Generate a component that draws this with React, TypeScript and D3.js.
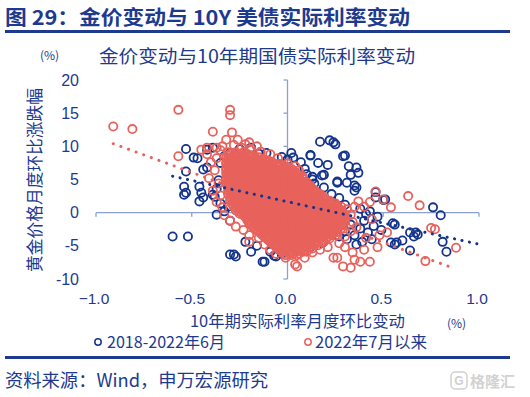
import React from "react";
import * as d3 from "d3";

// 2018 - 2022.06 (blue) : [real rate change, gold change]
const bluePoints: [number, number][] = [
  [-0.60, -3.6], [-0.52, -3.6],
  [-0.53, 9.6], [-0.49, 8.3], [-0.47, 8.2], [-0.42, 9.5], [-0.39, 9.8], [-0.44, 6.5], [-0.42, 6.8], [-0.53, 6.2],
  [-0.54, 3.9], [-0.53, 3.0], [-0.54, 2.7], [-0.46, 3.9], [-0.45, 3.0], [-0.44, 2.3], [-0.46, 1.7], [-0.38, 2.4],
  [-0.39, 2.7], [-0.37, -0.3], [-0.31, 0.9],
  [-0.30, -6.3], [-0.27, -6.6], [-0.19, -5.9], [-0.13, -7.4], [-0.12, -7.4], [-0.09, -5.9], [-0.07, -6.5], [-0.06, -6.6], [-0.28, -6.3],
  [0.17, 10.7], [0.22, 10.9], [0.24, 10.6], [0.25, 10.3], [0.12, 8.6], [0.02, 9.0], [0.03, 8.3], [0.30, 8.6],
  [0.16, 7.5], [0.21, 7.2], [0.32, 7.0], [0.36, 6.8], [0.33, 5.7], [0.37, 6.0], [0.13, 5.4], [0.18, 5.6],
  [0.26, 4.5], [0.35, 4.1], [0.35, 3.3], [0.46, 3.1], [0.50, 1.9], [0.46, 2.3], [0.51, 2.0],
  [0.76, 0.8], [0.80, -0.4], [0.55, -1.6], [0.56, -1.8], [0.64, -3.0], [0.68, -3.3], [0.66, -3.6], [0.67, -3.0],
  [0.54, -4.5], [0.57, -4.5], [0.56, -4.8], [0.60, -4.2], [0.64, -5.7], [0.81, -4.4], [0.83, -5.9], [0.49, -2.6],
  [0.22, -1.5], [0.25, -2.2], [0.28, -1.0], [0.30, -2.8], [0.33, -1.8], [0.35, -3.4], [0.38, -2.4], [0.40, -1.2],
  [0.42, -3.0], [0.44, -4.0], [0.39, -4.4], [0.36, -4.8], [0.31, -4.0], [0.27, -3.6], [0.45, -2.0], [0.47, -0.6],
  [0.41, -0.2], [0.24, -0.6],
  [-0.35, 7.5], [-0.33, 8.5], [-0.30, 9.0], [-0.25, 9.6], [-0.19, 9.8], [-0.15, 8.9], [-0.11, 9.0], [-0.03, 8.4],
  [0.00, 8.0], [0.07, 7.6], [0.09, 6.6], [0.10, 5.8], [0.14, 4.4], [0.19, 3.8], [0.23, 2.8], [0.27, 2.2],
  [0.30, 1.2], [0.38, 0.6], [0.43, 0.2], [-0.36, 4.9], [-0.37, 3.6], [-0.35, 1.4], [-0.33, 0.2], [-0.30, -1.2],
  [0.12, 8.7], [0.19, 5.7], [0.26, 4.7], [0.31, 4.5], [0.36, 3.8], [0.13, 5.0], [0.29, 8.5],
  [-0.22, -4.4], [-0.16, -5.0], [-0.03, -6.2], [0.05, -5.6], [0.12, -5.2], [0.18, -4.6],
  [-0.20, 4.0], [-0.10, 2.0], [0.00, 1.0], [0.05, -2.0], [-0.15, 6.0], [0.10, -1.0],
];

// 2022.07 onwards (red): scattered points around the core
const redPoints: [number, number][] = [
  [-0.91, 13.0], [-0.81, 12.6], [-0.57, 15.5], [-0.30, 15.5], [-0.30, 14.7], [-0.39, 12.2], [-0.29, 12.1],
  [-0.32, 11.0], [-0.57, 8.5], [-0.42, 9.8], [-0.26, 11.0], [-0.22, 10.3], [-0.45, 9.5], [-0.37, 9.8],
  [-0.27, -2.1], [-0.23, -2.6], [-0.20, -4.4], [-0.01, -6.8], [0.04, -7.8], [0.05, -8.1], [0.24, -6.8],
  [0.26, -6.8], [0.29, -8.1], [0.33, -8.3], [0.35, -7.1], [0.38, -7.4], [0.43, -7.4],
  [0.63, 2.5], [0.69, 1.1], [0.75, -2.3], [0.77, -2.5], [0.88, -5.3], [0.72, -7.3], [0.46, 3.2], [0.50, 2.0], [0.54, 0.8],
  [0.40, 0.9], [0.43, 1.6], [0.44, -1.0], [0.48, -3.4], [0.52, -3.0], [0.47, -5.2], [0.40, -5.6], [0.34, -6.0],
  [0.30, -5.2], [0.36, -2.2], [0.41, -3.8],
  [-0.42, 8.8], [-0.40, 7.6], [-0.38, 6.4], [-0.41, 5.2], [-0.36, 4.4], [-0.39, 3.3], [-0.35, 2.6], [-0.37, 1.6],
  [-0.34, 0.8], [-0.33, -0.4], [-0.30, -1.2], [-0.35, 9.4], [-0.37, 8.2], [-0.34, 10.0], [-0.28, 10.2],
  [-0.24, 9.8], [-0.19, 9.6], [-0.14, 9.2], [-0.09, 8.8], [-0.20, 10.6], [-0.16, 10.0],
  [-0.05, 8.2], [0.00, 7.4], [0.04, 7.0], [0.06, 6.4], [0.08, 5.4], [0.10, 4.6], [0.12, 4.0], [0.14, 3.4],
  [0.17, 2.8], [0.19, 2.4], [0.22, 1.8], [0.25, 1.4], [0.28, 0.9], [0.31, 0.5], [0.33, -0.3], [0.35, 0.9],
  [0.37, 1.7], [0.34, -1.4], [0.33, -2.8], [0.30, -3.6],
  [-0.20, -3.4], [-0.15, -3.8], [-0.12, -4.8], [-0.09, -5.6], [-0.06, -6.2], [0.09, -6.8], [0.13, -6.0],
  [0.17, -5.6], [0.21, -5.2], [0.27, -4.6],
];

// 2022.07 onwards (red): dense core, one row per gold change level
const redCore: [number, number[]][] = [
  [9.1, [-0.31, -0.27, -0.23]],
  [8.85, [-0.30, -0.27, -0.24, -0.21]],
  [8.6, [-0.31, -0.28, -0.26, -0.23, -0.20, -0.18]],
  [8.35, [-0.32, -0.29, -0.27, -0.24, -0.22, -0.19, -0.17, -0.15]],
  [8.1, [-0.31, -0.29, -0.26, -0.24, -0.21, -0.18, -0.16, -0.13]],
  [7.85, [-0.31, -0.28, -0.25, -0.23, -0.20, -0.18, -0.15, -0.12, -0.10]],
  [7.6, [-0.32, -0.29, -0.27, -0.24, -0.22, -0.19, -0.17, -0.14, -0.11, -0.08]],
  [7.35, [-0.32, -0.30, -0.27, -0.25, -0.22, -0.20, -0.17, -0.14, -0.12, -0.09, -0.06, -0.04]],
  [7.1, [-0.31, -0.28, -0.26, -0.23, -0.21, -0.18, -0.16, -0.13, -0.10, -0.08, -0.05, -0.02]],
  [6.85, [-0.31, -0.28, -0.25, -0.23, -0.20, -0.17, -0.15, -0.12, -0.10, -0.07, -0.04, -0.02, 0.00]],
  [6.6, [-0.32, -0.29, -0.27, -0.24, -0.21, -0.19, -0.16, -0.14, -0.11, -0.08, -0.06, -0.03, -0.01, 0.02]],
  [6.35, [-0.32, -0.30, -0.27, -0.25, -0.22, -0.20, -0.17, -0.14, -0.12, -0.09, -0.07, -0.04, -0.01, 0.01, 0.03]],
  [6.1, [-0.31, -0.29, -0.26, -0.23, -0.21, -0.18, -0.16, -0.13, -0.10, -0.08, -0.05, -0.03, 0.00, 0.03, 0.04]],
  [5.85, [-0.32, -0.30, -0.27, -0.24, -0.22, -0.19, -0.17, -0.14, -0.11, -0.09, -0.06, -0.04, -0.01, 0.02, 0.05]],
  [5.6, [-0.31, -0.28, -0.26, -0.23, -0.20, -0.18, -0.15, -0.13, -0.10, -0.07, -0.05, -0.02, 0.00, 0.03, 0.06]],
  [5.35, [-0.31, -0.28, -0.25, -0.23, -0.20, -0.17, -0.15, -0.12, -0.10, -0.07, -0.04, -0.02, 0.01, 0.04, 0.06]],
  [5.1, [-0.32, -0.29, -0.26, -0.24, -0.21, -0.19, -0.16, -0.13, -0.11, -0.08, -0.06, -0.03, 0.00, 0.02, 0.05, 0.08]],
  [4.85, [-0.32, -0.30, -0.27, -0.25, -0.22, -0.19, -0.17, -0.14, -0.12, -0.09, -0.06, -0.04, -0.01, 0.02, 0.04, 0.07]],
  [4.6, [-0.31, -0.28, -0.26, -0.23, -0.20, -0.18, -0.15, -0.13, -0.10, -0.07, -0.05, -0.02, 0.01, 0.03, 0.06, 0.09]],
  [4.35, [-0.32, -0.30, -0.27, -0.25, -0.22, -0.20, -0.17, -0.14, -0.12, -0.09, -0.07, -0.04, -0.01, 0.01, 0.04, 0.07, 0.09]],
  [4.1, [-0.31, -0.29, -0.26, -0.24, -0.21, -0.18, -0.16, -0.13, -0.11, -0.08, -0.05, -0.03, 0.00, 0.02, 0.05, 0.08, 0.11]],
  [3.85, [-0.31, -0.29, -0.27, -0.24, -0.21, -0.19, -0.16, -0.14, -0.11, -0.08, -0.06, -0.03, -0.01, 0.02, 0.05, 0.07, 0.10, 0.12]],
  [3.6, [-0.30, -0.28, -0.25, -0.22, -0.20, -0.17, -0.15, -0.12, -0.09, -0.07, -0.04, -0.02, 0.01, 0.04, 0.06, 0.09, 0.11, 0.13]],
  [3.35, [-0.31, -0.29, -0.26, -0.23, -0.21, -0.18, -0.16, -0.13, -0.10, -0.08, -0.05, -0.03, 0.00, 0.03, 0.05, 0.08, 0.10, 0.13]],
  [3.1, [-0.30, -0.27, -0.25, -0.22, -0.19, -0.17, -0.14, -0.12, -0.09, -0.06, -0.04, -0.01, 0.01, 0.04, 0.07, 0.09, 0.12, 0.15]],
  [2.85, [-0.31, -0.28, -0.26, -0.23, -0.20, -0.18, -0.15, -0.13, -0.10, -0.07, -0.05, -0.02, 0.00, 0.03, 0.06, 0.08, 0.11, 0.13, 0.16]],
  [2.6, [-0.29, -0.27, -0.24, -0.21, -0.19, -0.16, -0.14, -0.11, -0.08, -0.06, -0.03, -0.01, 0.02, 0.05, 0.07, 0.10, 0.12, 0.15, 0.17]],
  [2.35, [-0.30, -0.28, -0.25, -0.22, -0.20, -0.17, -0.15, -0.12, -0.09, -0.07, -0.04, -0.02, 0.01, 0.04, 0.06, 0.09, 0.11, 0.14, 0.17]],
  [2.1, [-0.29, -0.26, -0.23, -0.21, -0.18, -0.16, -0.13, -0.10, -0.08, -0.05, -0.03, 0.00, 0.03, 0.05, 0.08, 0.10, 0.13, 0.16, 0.19]],
  [1.85, [-0.30, -0.27, -0.24, -0.22, -0.19, -0.17, -0.14, -0.11, -0.09, -0.06, -0.04, -0.01, 0.02, 0.04, 0.07, 0.09, 0.12, 0.15, 0.17, 0.20]],
  [1.6, [-0.28, -0.25, -0.23, -0.20, -0.18, -0.15, -0.12, -0.10, -0.07, -0.05, -0.02, 0.01, 0.03, 0.06, 0.08, 0.11, 0.14, 0.16, 0.19, 0.22]],
  [1.35, [-0.29, -0.26, -0.24, -0.21, -0.19, -0.16, -0.13, -0.11, -0.08, -0.06, -0.03, 0.00, 0.02, 0.05, 0.08, 0.10, 0.13, 0.15, 0.18, 0.21, 0.23]],
  [1.1, [-0.27, -0.25, -0.22, -0.20, -0.17, -0.14, -0.12, -0.09, -0.07, -0.04, -0.01, 0.01, 0.04, 0.07, 0.09, 0.12, 0.14, 0.17, 0.20, 0.22, 0.25]],
  [0.85, [-0.28, -0.25, -0.23, -0.20, -0.18, -0.15, -0.12, -0.10, -0.07, -0.05, -0.02, 0.00, 0.03, 0.06, 0.08, 0.11, 0.13, 0.16, 0.19, 0.21, 0.24, 0.26]],
  [0.6, [-0.26, -0.24, -0.21, -0.19, -0.16, -0.14, -0.11, -0.08, -0.06, -0.03, -0.01, 0.02, 0.05, 0.07, 0.10, 0.12, 0.15, 0.18, 0.20, 0.23, 0.25, 0.27]],
  [0.35, [-0.27, -0.24, -0.22, -0.19, -0.17, -0.14, -0.11, -0.09, -0.06, -0.04, -0.01, 0.02, 0.04, 0.07, 0.09, 0.12, 0.15, 0.17, 0.20, 0.22, 0.25, 0.28]],
  [0.1, [-0.25, -0.23, -0.20, -0.18, -0.15, -0.12, -0.10, -0.07, -0.05, -0.02, 0.01, 0.03, 0.06, 0.08, 0.11, 0.14, 0.16, 0.19, 0.21, 0.24, 0.27, 0.29]],
  [-0.15, [-0.25, -0.22, -0.20, -0.17, -0.15, -0.12, -0.09, -0.07, -0.04, -0.02, 0.01, 0.04, 0.06, 0.09, 0.11, 0.14, 0.17, 0.19, 0.22, 0.24, 0.27, 0.29]],
  [-0.4, [-0.23, -0.21, -0.19, -0.16, -0.13, -0.11, -0.08, -0.06, -0.03, 0.00, 0.02, 0.05, 0.07, 0.10, 0.13, 0.15, 0.18, 0.20, 0.23, 0.26, 0.28, 0.30]],
  [-0.65, [-0.22, -0.20, -0.17, -0.15, -0.12, -0.10, -0.07, -0.05, -0.02, 0.01, 0.03, 0.06, 0.08, 0.11, 0.14, 0.16, 0.19, 0.21, 0.24, 0.27, 0.29]],
  [-0.9, [-0.21, -0.19, -0.16, -0.14, -0.11, -0.09, -0.06, -0.03, -0.01, 0.02, 0.04, 0.07, 0.10, 0.12, 0.15, 0.17, 0.20, 0.23, 0.25, 0.28, 0.30]],
  [-1.15, [-0.21, -0.18, -0.16, -0.13, -0.10, -0.08, -0.05, -0.03, 0.00, 0.03, 0.05, 0.08, 0.10, 0.13, 0.16, 0.18, 0.21, 0.23, 0.26, 0.29]],
  [-1.4, [-0.20, -0.17, -0.15, -0.12, -0.09, -0.07, -0.04, -0.02, 0.01, 0.04, 0.06, 0.09, 0.11, 0.14, 0.17, 0.19, 0.22, 0.24, 0.27, 0.30]],
  [-1.65, [-0.20, -0.17, -0.14, -0.12, -0.09, -0.06, -0.04, -0.01, 0.02, 0.04, 0.07, 0.09, 0.12, 0.15, 0.17, 0.20, 0.22, 0.25, 0.28]],
  [-1.9, [-0.19, -0.16, -0.13, -0.11, -0.08, -0.05, -0.03, 0.00, 0.03, 0.05, 0.08, 0.10, 0.13, 0.16, 0.18, 0.21, 0.23, 0.26, 0.29]],
  [-2.15, [-0.18, -0.15, -0.13, -0.10, -0.07, -0.05, -0.02, 0.00, 0.03, 0.06, 0.08, 0.11, 0.13, 0.16, 0.19, 0.21, 0.24, 0.27]],
  [-2.4, [-0.17, -0.14, -0.12, -0.09, -0.07, -0.04, -0.01, 0.01, 0.04, 0.07, 0.09, 0.12, 0.14, 0.17, 0.20, 0.22, 0.25, 0.28]],
  [-2.65, [-0.16, -0.13, -0.11, -0.08, -0.06, -0.03, 0.00, 0.02, 0.05, 0.07, 0.10, 0.12, 0.15, 0.18, 0.20, 0.23, 0.25]],
  [-2.9, [-0.15, -0.13, -0.10, -0.07, -0.05, -0.02, 0.00, 0.03, 0.06, 0.08, 0.11, 0.13, 0.16, 0.19, 0.21, 0.24, 0.26]],
  [-3.15, [-0.14, -0.12, -0.09, -0.07, -0.04, -0.01, 0.01, 0.04, 0.06, 0.09, 0.12, 0.14, 0.17, 0.19, 0.22, 0.24]],
  [-3.4, [-0.13, -0.11, -0.08, -0.06, -0.03, 0.00, 0.02, 0.05, 0.07, 0.10, 0.13, 0.15, 0.18, 0.20, 0.23, 0.25]],
  [-3.65, [-0.12, -0.10, -0.07, -0.04, -0.02, 0.01, 0.03, 0.06, 0.09, 0.11, 0.14, 0.16, 0.19, 0.21]],
  [-3.9, [-0.11, -0.09, -0.06, -0.03, -0.01, 0.02, 0.04, 0.07, 0.10, 0.12, 0.15, 0.17, 0.20, 0.22]],
  [-4.15, [-0.10, -0.07, -0.05, -0.02, 0.00, 0.03, 0.05, 0.08, 0.10, 0.13, 0.15, 0.18]],
  [-4.4, [-0.09, -0.07, -0.04, -0.02, 0.01, 0.04, 0.06, 0.09, 0.11, 0.14, 0.16, 0.19]],
  [-4.65, [-0.08, -0.06, -0.03, -0.01, 0.02, 0.05, 0.07, 0.10, 0.12, 0.15]],
  [-4.9, [-0.07, -0.05, -0.02, 0.01, 0.03, 0.06, 0.08, 0.11, 0.14, 0.16]],
  [-5.15, [-0.06, -0.03, -0.01, 0.02, 0.04, 0.07, 0.09, 0.12]],
  [-5.4, [-0.05, -0.02, 0.00, 0.03, 0.05, 0.08, 0.11, 0.13]],
  [-5.65, [-0.04, -0.01, 0.01, 0.04, 0.07, 0.09]],
  [-5.9, [-0.03, 0.00, 0.02, 0.05, 0.08, 0.10]],
  [-6.15, [-0.02, 0.01, 0.03, 0.06]],
  [-6.4, [-0.01, 0.02, 0.05]],
];

// trend lines (end points)
const blueTrend: [number, number][] = [[-0.60, 5.5], [0.99, -4.7]];
const redTrend: [number, number][] = [[-0.91, 10.4], [0.87, -8.4]];

const xTicks = [-1.0, -0.5, 0.0, 0.5, 1.0];
const yTicks = [20, 15, 10, 5, 0, -5, -10];

const BLUE = "#14348c";
const RED = "#e8625c";
const NAVY = "#1d3a8f";
const AXIS = "#8aa2cf";
const CJK = "'Noto Sans CJK SC', 'Noto Sans', sans-serif";
const LAT = "'Liberation Sans', Arial, sans-serif";

export default function App() {
  const x = d3.scaleLinear().domain([-1, 1]).range([96, 479]);
  const y = d3.scaleLinear().domain([-10, 20]).range([279, 80]);
  const line = d3.line<[number, number]>().x((d) => x(d[0])).y((d) => y(d[1]));

  const redAll: [number, number][] = [];
  redCore.forEach(([gy, xs]) => xs.forEach((gx) => redAll.push([gx, gy])));
  redPoints.forEach((p) => redAll.push(p));

  return (
    <svg width={530} height={397} style={{ position: "absolute", left: 0, top: 0, background: "#fff" }}>
      <text x={5} y={25} fontFamily={CJK} fontWeight={700} fontSize={20} fill={NAVY} textLength={405} lengthAdjust="spacingAndGlyphs">
        图 29：金价变动与 10Y 美债实际利率变动
      </text>
      <rect x={5} y={30} width={505} height={3} fill={NAVY} />

      <text x={40} y={60} fontFamily={CJK} fontSize={12} fill={NAVY}>(%)</text>
      <text x={99} y={63} fontFamily={CJK} fontSize={18} fill={NAVY} textLength={316} lengthAdjust="spacingAndGlyphs">
        金价变动与10年期国债实际利率变动
      </text>

      {/* axes */}
      <line x1={x(-1)} x2={x(1)} y1={y(0)} y2={y(0)} stroke={AXIS} strokeWidth={1.3} />
      {xTicks.map((t) => (
        <line key={"xt" + t} x1={x(t)} x2={x(t)} y1={y(0)} y2={y(0) + 4} stroke={AXIS} strokeWidth={1.3} />
      ))}
      <line x1={x(0)} x2={x(0)} y1={y(20)} y2={y(-10)} stroke={AXIS} strokeWidth={1.3} />
      {yTicks.map((t) => (
        <line key={"yt" + t} x1={x(0) - 4} x2={x(0)} y1={y(t)} y2={y(t)} stroke={AXIS} strokeWidth={1.3} />
      ))}

      {yTicks.map((t) => (
        <text key={"yl" + t} x={79} y={y(t) + 5.5} textAnchor="end" fontFamily={LAT} fontSize={16} fill={NAVY}>
          {t}
        </text>
      ))}
      {xTicks.map((t) => (
        <text key={"xl" + t} x={x(t) - 2} y={304} textAnchor="middle" fontFamily={LAT} fontSize={15.5} fill={NAVY}>
          {d3.format(".1f")(t)}
        </text>
      ))}

      {/* scatter */}
      <g fill="none" stroke={BLUE} strokeWidth={1.8}>
        {bluePoints.map((d, i) => (
          <circle key={"b" + i} cx={x(d[0])} cy={y(d[1])} r={4.1} />
        ))}
      </g>
      <g fill="none" stroke={RED} strokeWidth={1.8}>
        {redAll.map((d, i) => (
          <circle key={"r" + i} cx={x(d[0])} cy={y(d[1])} r={4.1} />
        ))}
      </g>

      <path d={line(blueTrend) || ""} fill="none" stroke={BLUE} strokeWidth={3} strokeLinecap="round" strokeDasharray="0.1 7.5" />
      <path d={line(redTrend) || ""} fill="none" stroke={RED} strokeWidth={3} strokeLinecap="round" strokeDasharray="0.1 8" />

      <text transform="translate(41,180) rotate(-90)" textAnchor="middle" fontFamily={CJK} fontSize={17} fill={NAVY} textLength={184} lengthAdjust="spacingAndGlyphs">
        黄金价格月度环比涨跌幅
      </text>
      <text x={190} y={327} fontFamily={CJK} fontSize={16} fill={NAVY} textLength={215} lengthAdjust="spacingAndGlyphs">
        10年期实际利率月度环比变动
      </text>
      <text x={447} y={328} fontFamily={CJK} fontSize={12} fill={NAVY}>(%)</text>

      {/* legend */}
      <circle cx={98} cy={342} r={3.2} fill="none" stroke={BLUE} strokeWidth={1.5} />
      <text x={107} y={348} fontFamily={CJK} fontSize={16} fill={NAVY} textLength={118} lengthAdjust="spacingAndGlyphs">
        2018-2022年6月
      </text>
      <circle cx={308} cy={342} r={3.2} fill="none" stroke={RED} strokeWidth={1.5} />
      <text x={315} y={348} fontFamily={CJK} fontSize={16} fill={NAVY} textLength={112} lengthAdjust="spacingAndGlyphs">
        2022年7月以来
      </text>

      <rect x={5} y={356} width={505} height={3} fill={NAVY} />
      <text x={5} y={387} fontFamily={CJK} fontSize={18} fill={NAVY} textLength={263} lengthAdjust="spacingAndGlyphs">
        资料来源：Wind，申万宏源研究
      </text>

      {/* watermark */}
      <rect x={451} y={372} width={16} height={17} rx={4} fill="none" stroke="#cfcfcf" strokeWidth={1.5} />
      <text x={459} y={385} textAnchor="middle" fontFamily={LAT} fontWeight={700} fontSize={12} fill="#cfcfcf">G</text>
      <text x={470} y={387} fontFamily={CJK} fontWeight={700} fontSize={15} fill="#d2d2d2">格隆汇</text>
    </svg>
  );
}
